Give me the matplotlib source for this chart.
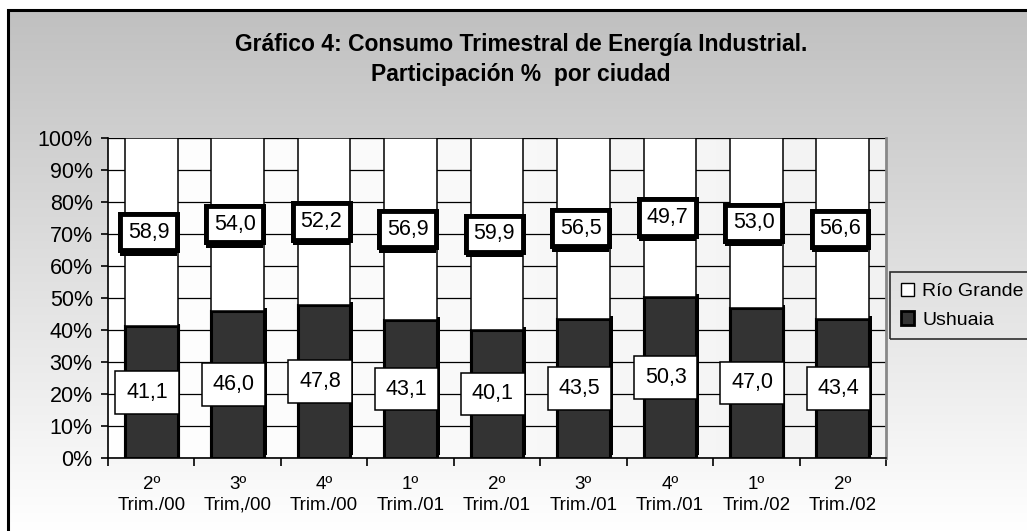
# Grafico 4: consumo trimestral de energia industrial, participacion % por ciudad
import numpy as np
import matplotlib
matplotlib.use("Agg")
import matplotlib.pyplot as plt
from matplotlib.patches import Patch, Rectangle
import matplotlib.patheffects as pe

plt.rcParams["font.family"] = ["Liberation Sans", "DejaVu Sans"]

# datos
trimestres = ["2º\nTrim./00", "3º\nTrim,/00", "4º\nTrim./00",
              "1º\nTrim./01", "2º\nTrim./01", "3º\nTrim./01",
              "4º\nTrim./01", "1º\nTrim./02", "2º\nTrim./02"]
ushuaia = [41.1, 46.0, 47.8, 43.1, 40.1, 43.5, 50.3, 47.0, 43.4]
rio_grande = [58.9, 54.0, 52.2, 56.9, 59.9, 56.5, 49.7, 53.0, 56.6]
y_ticks = [0, 10, 20, 30, 40, 50, 60, 70, 80, 90, 100]

W, H = 1027, 531
fig = plt.figure(figsize=(W / 100, H / 100), dpi=100, facecolor="white")

# fondo degradado gris -> blanco dentro del marco
bg = fig.add_axes([8 / W, 0, 1 - 8 / W, 1 - 9.5 / H], zorder=-10)
grad = np.linspace(192, 255, 256)[:, None] / 255.0
bg.imshow(np.dstack([grad, grad, grad]), aspect="auto",
          extent=[0, 1, 0, 1], origin="upper")
bg.set_axis_off()

# marco negro
fig.patches.append(Rectangle((8 / W, -0.1), 1.2, 1.1 - 9.5 / H,
                             transform=fig.transFigure, fill=False,
                             edgecolor="black", linewidth=2.2, zorder=5))

# titulo
fig.text(521 / W, 1 - 44 / H, "Gráfico 4: Consumo Trimestral de Energía Industrial.",
         ha="center", va="center", fontsize=16.5, fontweight="bold")
fig.text(521 / W, 1 - 75 / H, "Participación %  por ciudad",
         ha="center", va="center", fontsize=16.5, fontweight="bold")

# area del grafico
left, right, top, bottom = 108, 886, 138, 458
ax = fig.add_axes([left / W, 1 - bottom / H, (right - left) / W, (bottom - top) / H])
ax.set_facecolor("none")
pg = np.linspace(1.0, 0.95, 256)[None, :]
ax.imshow(np.dstack([pg, pg, pg]), aspect="auto", extent=[0, 1, 0, 1],
          transform=ax.transAxes, zorder=0)

x = np.arange(len(trimestres))
ax.bar(x, ushuaia, width=0.61, color="#333333", edgecolor="black",
       linewidth=2.2, zorder=3,
       path_effects=[pe.withSimplePatchShadow(offset=(2, 2), shadow_rgbFace="black",
                                               alpha=1), pe.Normal()])
ax.bar(x, rio_grande, bottom=ushuaia, width=0.61, color="white",
       edgecolor="black", linewidth=1.1, zorder=3)

# etiquetas de datos
for i in range(len(x)):
    ax.annotate(f"{ushuaia[i]:.1f}".replace(".", ","), (x[i], ushuaia[i] / 2),
                xytext=(-3, 0), textcoords="offset points",
                ha="center", va="center", fontsize=15.5, zorder=6,
                bbox=dict(boxstyle="square,pad=0.5", facecolor="white",
                          edgecolor="black", linewidth=1.1))
    t2 = ax.annotate(f"{rio_grande[i]:.1f}".replace(".", ","),
                     (x[i], ushuaia[i] + rio_grande[i] / 2),
                     xytext=(-2, 0), textcoords="offset points",
                     ha="center", va="center", fontsize=15.5, zorder=6,
                     bbox=dict(boxstyle="square,pad=0.35", facecolor="white",
                               edgecolor="black", linewidth=3.5))
    t2.get_bbox_patch().set_path_effects(
        [pe.withSimplePatchShadow(offset=(0, -4), shadow_rgbFace="black", alpha=1),
         pe.Normal()])

ax.set_xlim(-0.5, len(x) - 0.5)
ax.set_ylim(0, 100)
ax.set_yticks(y_ticks)
ax.set_yticklabels([f"{v}%" for v in y_ticks], fontsize=15.5)
ax.set_xticks(x)
ax.set_xticklabels(trimestres, fontsize=13.5, linespacing=1.3)
ax.set_xticks(np.arange(len(x) + 1) - 0.5, minor=True)
ax.tick_params(axis="x", which="major", length=0, pad=13)
ax.tick_params(axis="x", which="minor", length=6, width=1.2, direction="out")
ax.tick_params(axis="y", length=5, width=1.2, direction="out", pad=6)
ax.yaxis.grid(True, color="black", linewidth=0.9, zorder=1)
ax.set_axisbelow(True)
ax.spines["top"].set_visible(False)
ax.spines["right"].set_color("#888888")
ax.spines["right"].set_linewidth(2)
ax.spines["left"].set_linewidth(1.2)
ax.spines["bottom"].set_linewidth(1.2)

# leyenda
handles = [Patch(facecolor="white", edgecolor="black", linewidth=1),
           Patch(facecolor="#333333", edgecolor="black", linewidth=2)]
leg = fig.legend(handles, ["Río Grande", "Ushuaia"], loc="upper left",
                 bbox_to_anchor=(890 / W, 1 - 272 / H), fontsize=14,
                 frameon=True, fancybox=False, handlelength=0.7,
                 handleheight=0.7, handletextpad=0.4, borderpad=0.55,
                 labelspacing=0.55, borderaxespad=0)
leg.get_frame().set_edgecolor("black")
leg.get_frame().set_facecolor("none")
leg.get_frame().set_linewidth(1.2)

fig.savefig("out.png", dpi=100, facecolor="white")
